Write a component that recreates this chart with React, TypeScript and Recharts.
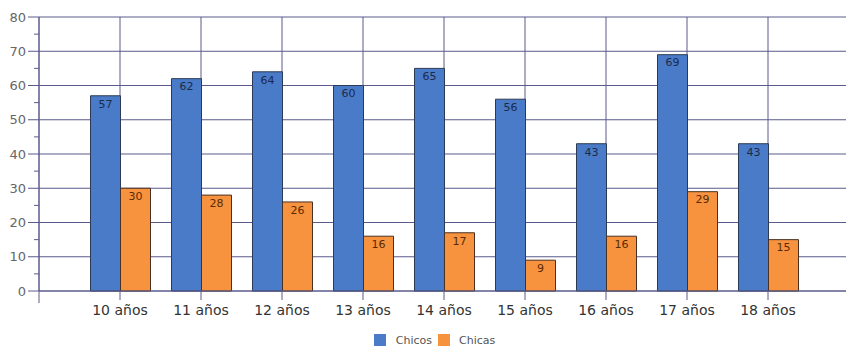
import { BarChart, Bar, XAxis, YAxis, CartesianGrid, Legend, LabelList } from "recharts";

const edades = ["10 años", "11 años", "12 años", "13 años", "14 años", "15 años", "16 años", "17 años", "18 años"];
const chicos = [57, 62, 64, 60, 65, 56, 43, 69, 43];
const chicas = [30, 28, 26, 16, 17, 9, 16, 29, 15];
const yTicks = [0, 5, 10, 15, 20, 25, 30, 35, 40, 45, 50, 55, 60, 65, 70, 75, 80];
const yMajor = [0, 10, 20, 30, 40, 50, 60, 70, 80];
const yMax = 80;

const data = edades.map((name, i) => ({ name, Chicos: chicos[i], Chicas: chicas[i] }));

const FONT = "'DejaVu Sans', Verdana, sans-serif";
const GRID = "#5a5a8c";

const YTick = ({ x, y, payload }: any) => {
    const v = payload.value;
    if (v % 10 !== 0) {
        return <line x1={x - 5} x2={x} y1={y} y2={y} stroke={GRID} strokeWidth={1} />;
    }
    return (
        <g>
            <line x1={x - 11} x2={x} y1={y} y2={y} stroke={GRID} strokeWidth={1} />
            {v === 0 && <line x1={x} x2={x} y1={y} y2={y + 12} stroke={GRID} strokeWidth={1} />}
            <text x={x - 13} y={y} dy="0.35em" textAnchor="end" fontSize={13} fill="#666" fontFamily={FONT}>
                {v}
            </text>
        </g>
    );
};

// only the major values get a grid line
const majorLines = ({ offset }: any) =>
    yMajor.map((v) => offset.top + offset.height * (1 - v / yMax));

const LegendBox = () => (
    <div style={{ height: 20, display: "flex", justifyContent: "center", alignItems: "center", paddingLeft: 20, fontFamily: FONT, fontSize: 11, color: "#555" }}>
        <span style={{ width: 12, height: 12, background: "#4a7bc8", display: "inline-block", marginRight: 10 }}></span>
        <span style={{ marginRight: 6 }}>Chicos</span>
        <span style={{ width: 12, height: 12, background: "#f7923f", display: "inline-block", marginRight: 9 }}></span>
        <span>Chicas</span>
    </div>
);

export default function App() {
    return (
        <div style={{ position: "absolute", left: 0, top: 0, width: 846, height: 354, background: "#fff" }}>
            <BarChart
                width={846}
                height={354}
                data={data}
                margin={{ top: 17, right: -3, left: 0, bottom: 13 }}
                barGap={0}
            >
                <CartesianGrid stroke={GRID} strokeWidth={1} horizontalCoordinatesGenerator={majorLines} />
                <XAxis
                    dataKey="name"
                    padding={{ left: 40.5, right: 40.5 }}
                    height={30}
                    stroke={GRID}
                    tickSize={9}
                    tickMargin={5}
                    tick={{ fontSize: 14, fill: "#333", fontFamily: FONT }}
                    interval={0}
                />
                <YAxis
                    width={39}
                    domain={[0, yMax]}
                    ticks={yTicks}
                    interval={0}
                    tickLine={false}
                    tickSize={0}
                    tickMargin={0}
                    stroke={GRID}
                    tick={<YTick />}
                />
                <Legend verticalAlign="bottom" content={<LegendBox />} wrapperStyle={{ bottom: 4 }} />
                <Bar dataKey="Chicos" fill="#4a7bc8" stroke="#2b3a55" strokeWidth={1} barSize={30} isAnimationActive={false}>
                    <LabelList dataKey="Chicos" position="insideTop" offset={4} fontSize={11} fill="#1c2a4a" fontFamily={FONT} />
                </Bar>
                <Bar dataKey="Chicas" fill="#f7923f" stroke="#4a3020" strokeWidth={1} barSize={30} isAnimationActive={false}>
                    <LabelList dataKey="Chicas" position="insideTop" offset={4} fontSize={11} fill="#5a2a00" fontFamily={FONT} />
                </Bar>
            </BarChart>
        </div>
    );
}
